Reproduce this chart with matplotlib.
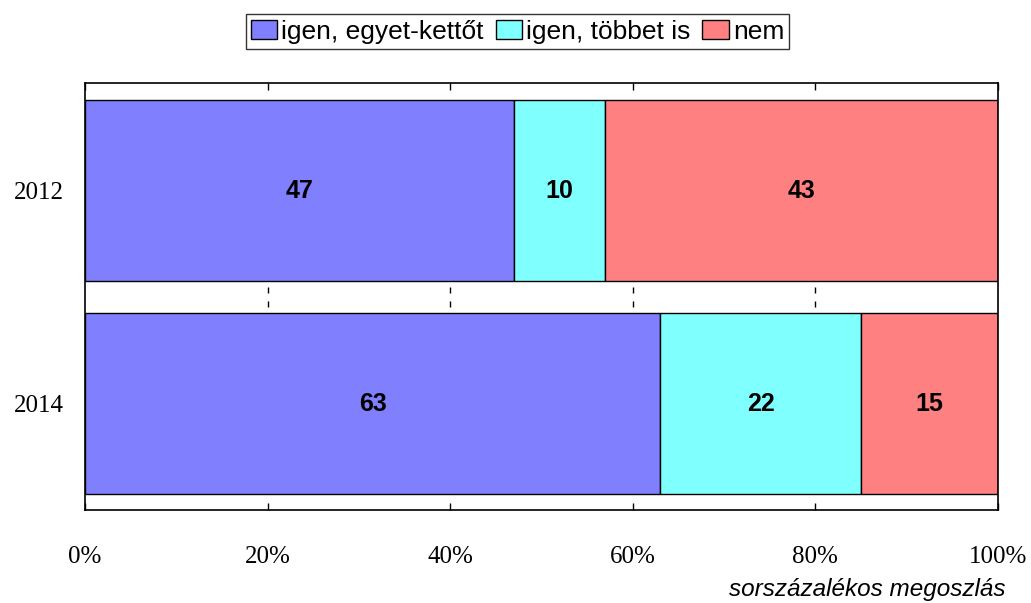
import matplotlib.pyplot as plt
import numpy as np

# data
years = ["2012", "2014"]
series = ["igen, egyet-kettőt", "igen, többet is", "nem"]
values = [[47, 63], [10, 22], [43, 15]]
colors = ["#8080ff", "#80ffff", "#ff8080"]
xticks = [0, 20, 40, 60, 80, 100]

fig = plt.figure(figsize=(10.31, 6.03), dpi=100)
ax = fig.add_axes([0.0824, 0.1542, 0.8856, 0.7082])

y = np.arange(len(years))
left = np.zeros(len(years))
handles = []
for name, vals, col in zip(series, values, colors):
    bars = ax.barh(y, vals, left=left, height=0.85, color=col,
                   edgecolor="black", linewidth=1.0, label=name, zorder=2)
    handles.append(bars)
    for yi, l, v in zip(y, left, vals):
        ax.text(l + v / 2, yi, str(v), ha="center", va="center",
                fontsize=18, fontweight="bold", family="Liberation Sans", zorder=3)
    left = left + np.array(vals)

# small tick marks in the gap between the two rows
ax.vlines(xticks[1:-1], 0.455, 0.48, color="black", linewidth=1.0, zorder=1)
ax.vlines(xticks[1:-1], 0.52, 0.545, color="black", linewidth=1.0, zorder=1)

ax.set_xlim(0, 100)
ax.set_ylim(1.5, -0.505)
ax.set_yticks(y)
ax.set_yticklabels(years, family="Liberation Serif", fontsize=18)
ax.set_xticks(xticks)
ax.set_xticklabels([f"{t}%" for t in xticks], family="Liberation Serif", fontsize=18)
ax.tick_params(axis="x", direction="in", length=5, width=1.0, top=True, pad=26)
ax.tick_params(axis="y", length=0, pad=15)
for s in ax.spines.values():
    s.set_linewidth(1.2)

fig.text(0.975, 0.003, "sorszázalékos megoszlás", ha="right", va="bottom",
         fontsize=17.5, style="italic", family="Liberation Sans")

leg = fig.legend(handles=handles, labels=series, loc="upper center",
                 bbox_to_anchor=(0.502, 0.985), ncol=3, frameon=True, fancybox=False,
                 prop={"family": "Liberation Sans", "size": 19},
                 handlelength=1.0, handleheight=0.7, handletextpad=0.15,
                 columnspacing=0.45, borderpad=0.2, borderaxespad=0.2)
leg.get_frame().set_edgecolor("black")
leg.get_frame().set_linewidth(1.0)

fig.savefig("out.png", dpi=100)
